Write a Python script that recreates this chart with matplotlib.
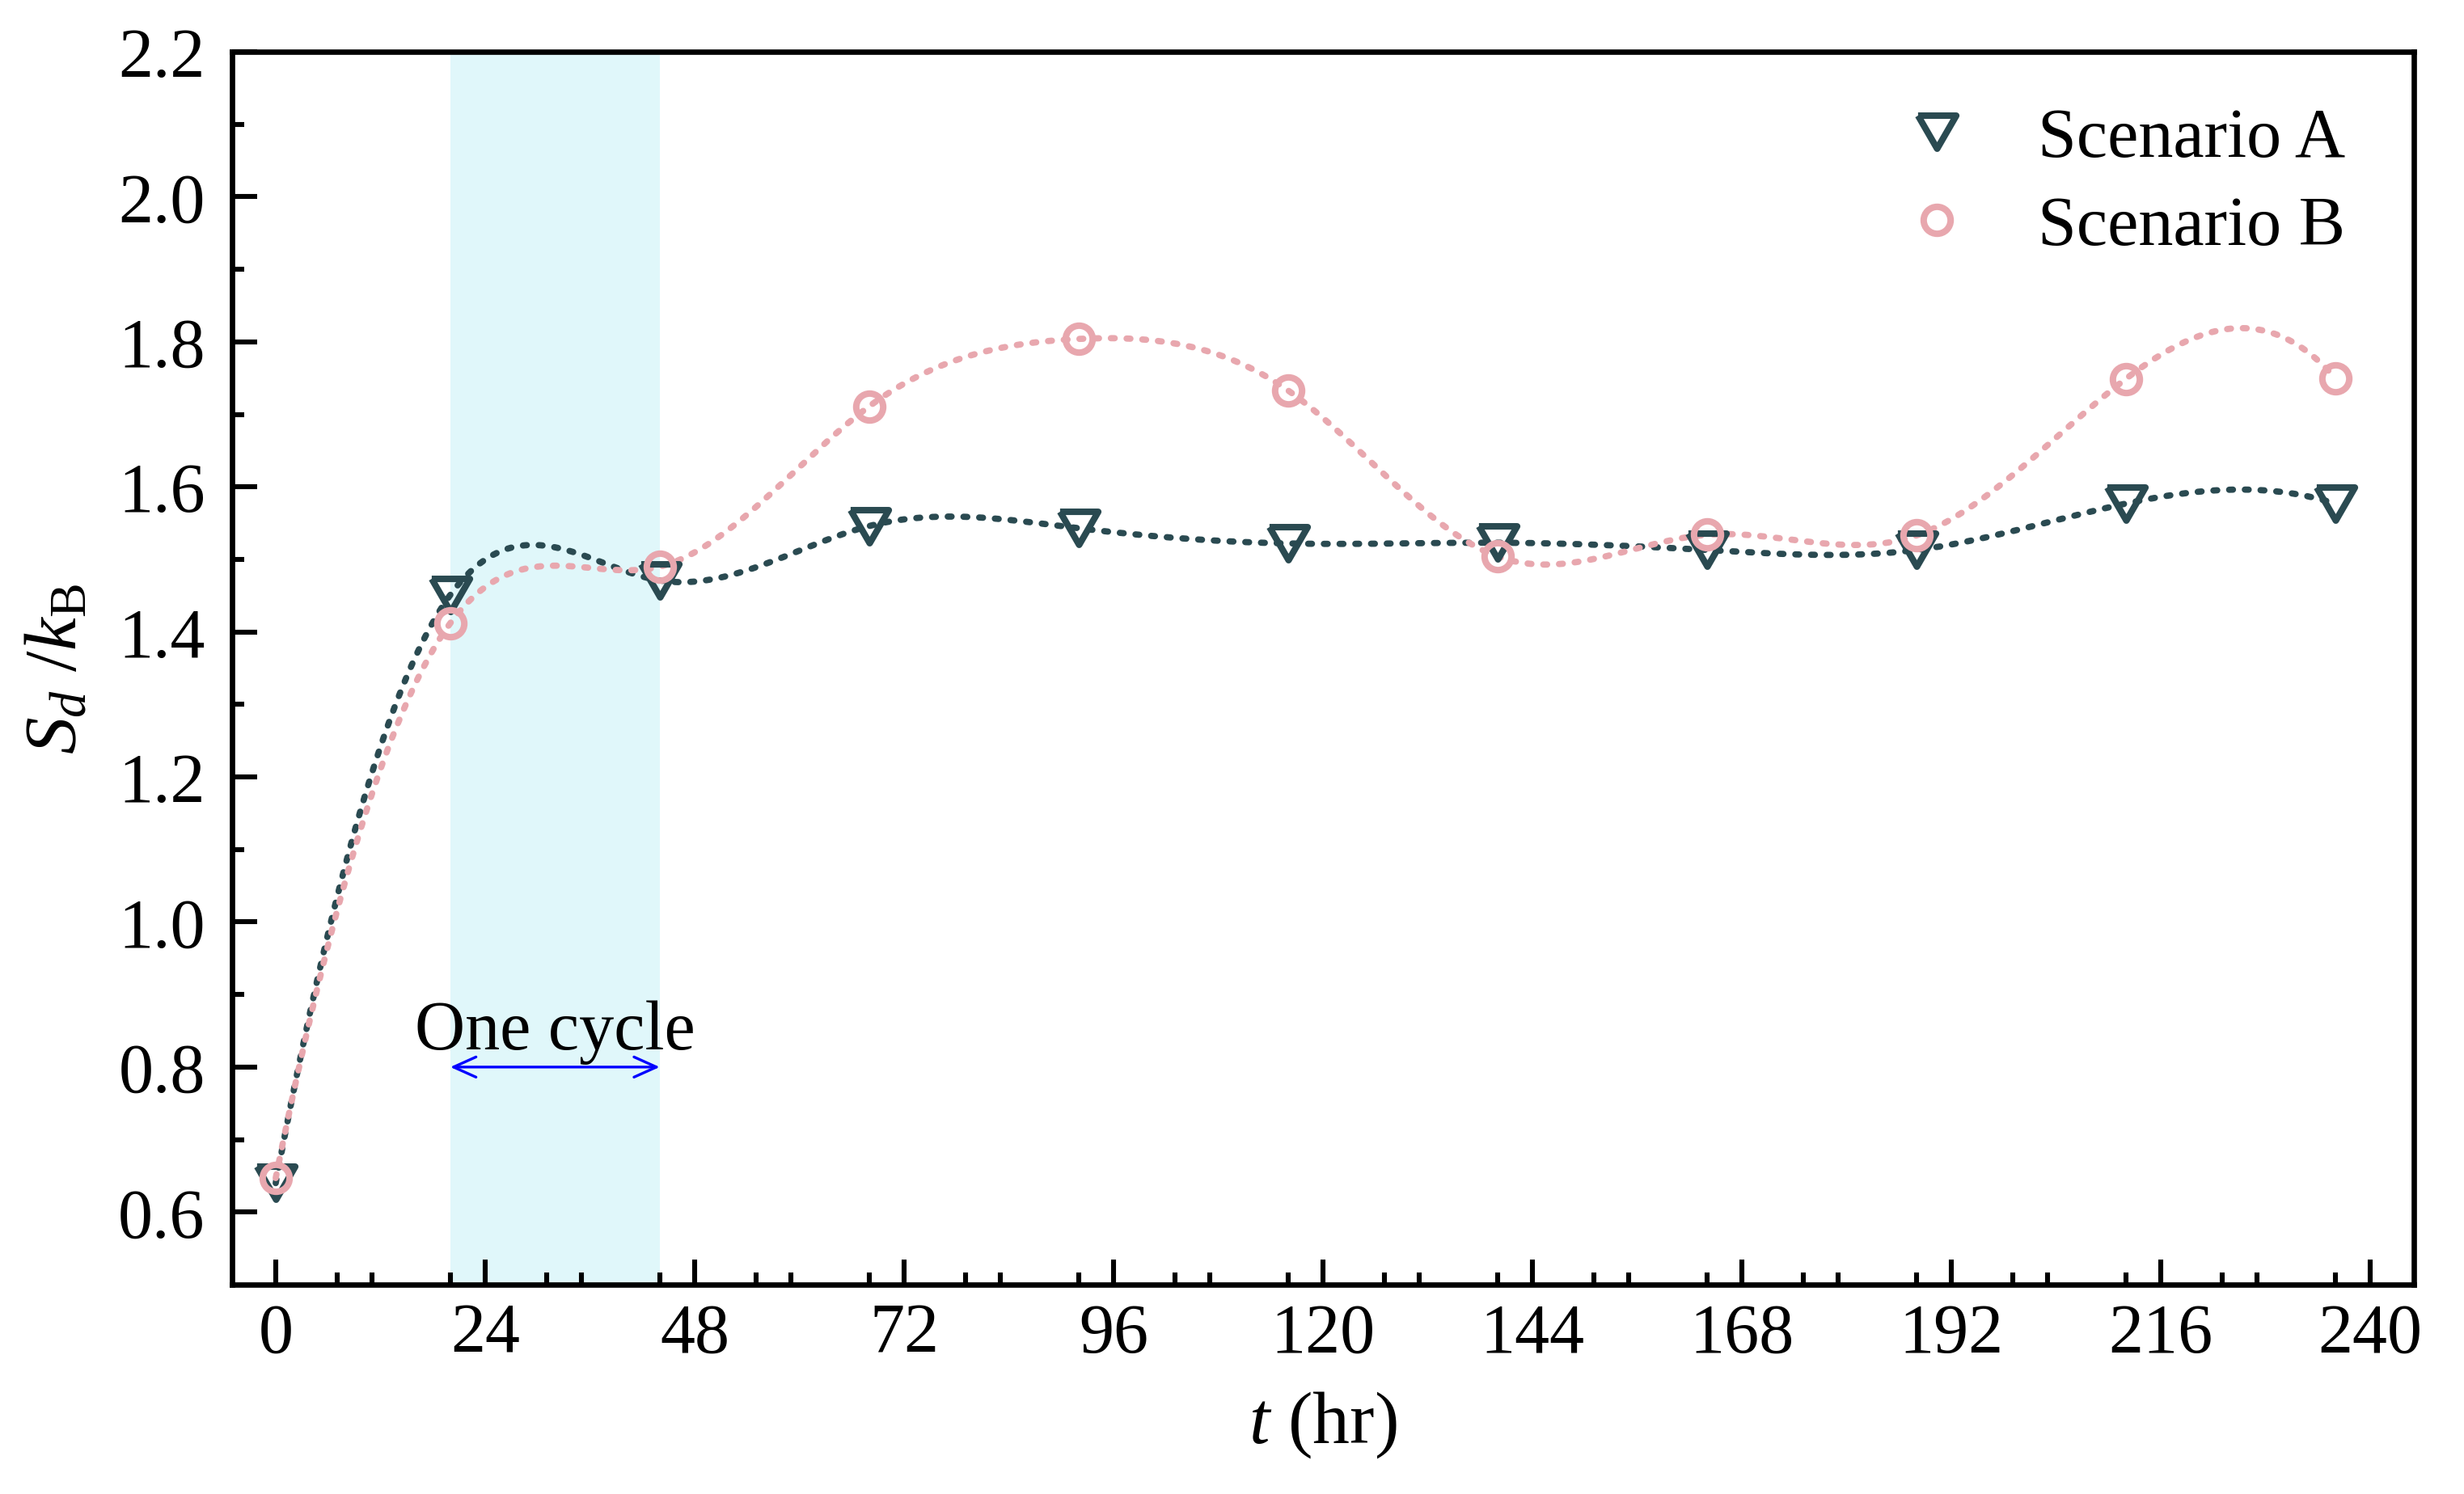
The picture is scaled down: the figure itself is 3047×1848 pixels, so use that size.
import numpy as np
import matplotlib
matplotlib.use("Agg")
import matplotlib.pyplot as plt

# ---------------- data ----------------
t_hr = [0, 20, 44, 68, 92, 116, 140, 164, 188, 212, 236]
scenario_a = [0.640, 1.451, 1.471, 1.546, 1.543, 1.522, 1.523, 1.513, 1.513, 1.577, 1.577]
scenario_b = [0.647, 1.412, 1.490, 1.711, 1.804, 1.733, 1.504, 1.534, 1.533, 1.749, 1.750]
series_labels = ["Scenario A", "Scenario B"]
cycle_span = [20, 44]
cycle_label = "One cycle"
x_major_ticks = [0, 24, 48, 72, 96, 120, 144, 168, 192, 216, 240]
x_minor_ticks = [7, 11, 20, 31, 35, 44, 55, 59, 68, 79, 83, 92, 103, 107, 116,
                 127, 131, 140, 151, 155, 164, 175, 179, 188, 199, 203, 212,
                 223, 227, 236]
y_major_ticks = [0.6, 0.8, 1.0, 1.2, 1.4, 1.6, 1.8, 2.0, 2.2]
y_minor_ticks = [0.7, 0.9, 1.1, 1.3, 1.5, 1.7, 1.9, 2.1]

# ---------------- style ----------------
plt.rcParams['font.family'] = ['Liberation Serif', 'DejaVu Serif']
plt.rcParams['mathtext.fontset'] = 'custom'
plt.rcParams['mathtext.rm'] = 'Liberation Serif'
plt.rcParams['mathtext.it'] = 'Liberation Serif:italic'
plt.rcParams['mathtext.bf'] = 'Liberation Serif:bold'

COL_A = '#2A4A51'
COL_B = '#E8A7AE'
SHADE = '#E0F7FA'
FS = 31


def spline_curve(x, y, n=1200):
    """Cubic spline through the points, used only to draw the connecting curve.
    Start: parabolic run-out; end: not-a-knot."""
    x = np.asarray(x, float)
    y = np.asarray(y, float)
    m = len(x)
    h = np.diff(x)
    A = np.zeros((m, m))
    r = np.zeros(m)
    A[0, 0], A[0, 1] = 1.0, -1.0
    A[-1, -3] = h[-1]
    A[-1, -2] = -(h[-2] + h[-1])
    A[-1, -1] = h[-2]
    for i in range(1, m - 1):
        A[i, i - 1] = h[i - 1]
        A[i, i] = 2 * (h[i - 1] + h[i])
        A[i, i + 1] = h[i]
        r[i] = 6 * ((y[i + 1] - y[i]) / h[i] - (y[i] - y[i - 1]) / h[i - 1])
    M = np.linalg.solve(A, r)
    xs = np.linspace(x[0], x[-1], n)
    idx = np.clip(np.searchsorted(x, xs) - 1, 0, m - 2)
    x0, x1 = x[idx], x[idx + 1]
    hh = x1 - x0
    a = (x1 - xs) / hh
    b = (xs - x0) / hh
    ys = (a * y[idx] + b * y[idx + 1]
          + ((a ** 3 - a) * M[idx] + (b ** 3 - b) * M[idx + 1]) * hh ** 2 / 6)
    return xs, ys


fig = plt.figure(figsize=(3047 / 200, 1849 / 200), dpi=200)
ax = fig.add_axes([287 / 3047, 1 - 1590 / 1849, (2985 - 287) / 3047, (1590 - 65) / 1849])

ax.axvspan(cycle_span[0], cycle_span[1], color=SHADE, zorder=0, lw=0)

tri = [(-1, 0.866), (1, 0.866), (0, -0.866), (-1, 0.866)]

for yv, col, mk, ms, lab in [(scenario_a, COL_A, tri, 17, series_labels[0]),
                             (scenario_b, COL_B, 'o', 12, series_labels[1])]:
    xs, ys = spline_curve(t_hr, yv)
    ax.plot(xs, ys, color=col, lw=2.8, linestyle=(0, (0.6, 1.9)),
            dash_capstyle='round', zorder=3)
    ax.plot(t_hr, yv, linestyle='none', marker=mk, ms=ms, mfc='none',
            mec=col, mew=2.9, zorder=4, label=lab)

# cycle annotation
ax.annotate('', xy=(cycle_span[1], 0.8), xytext=(cycle_span[0], 0.8),
            arrowprops=dict(arrowstyle='<->,head_length=10,head_width=4.5',
                            mutation_scale=1, color='#0000FF', lw=1.2,
                            shrinkA=0, shrinkB=0), zorder=5)
ax.text((cycle_span[0] + cycle_span[1]) / 2, 0.826, cycle_label, fontsize=FS,
        ha='center', va='baseline', zorder=5)

ax.set_xlim(-5, 245)
ax.set_ylim(0.5, 2.2)
ax.set_xticks(x_major_ticks)
ax.set_xticks(x_minor_ticks, minor=True)
ax.set_yticks(y_major_ticks)
ax.set_yticks(y_minor_ticks, minor=True)
ax.set_yticklabels([f"{v:.1f}" for v in y_major_ticks])
ax.tick_params(which='both', direction='in', top=False, right=False, width=2.2,
               labelsize=FS)
ax.tick_params(which='major', length=11)
ax.tick_params(which='minor', length=5.5)
ax.tick_params(axis='x', which='major', pad=8)
ax.tick_params(axis='y', which='major', pad=12)
for s in ax.spines.values():
    s.set_linewidth(2.4)

ax.set_xlabel(r'$t$ (hr)', fontsize=33, labelpad=10)
ax.set_ylabel(r'$S_d$ /$k_\mathrm{B}$', fontsize=33, labelpad=12)

ax.legend(loc='upper right', bbox_to_anchor=(0.994, 1.0), frameon=False,
          fontsize=FS, handlelength=1.0, handletextpad=0.95,
          labelspacing=0.34, borderaxespad=0.4)

fig.savefig('out.png', dpi=200)
